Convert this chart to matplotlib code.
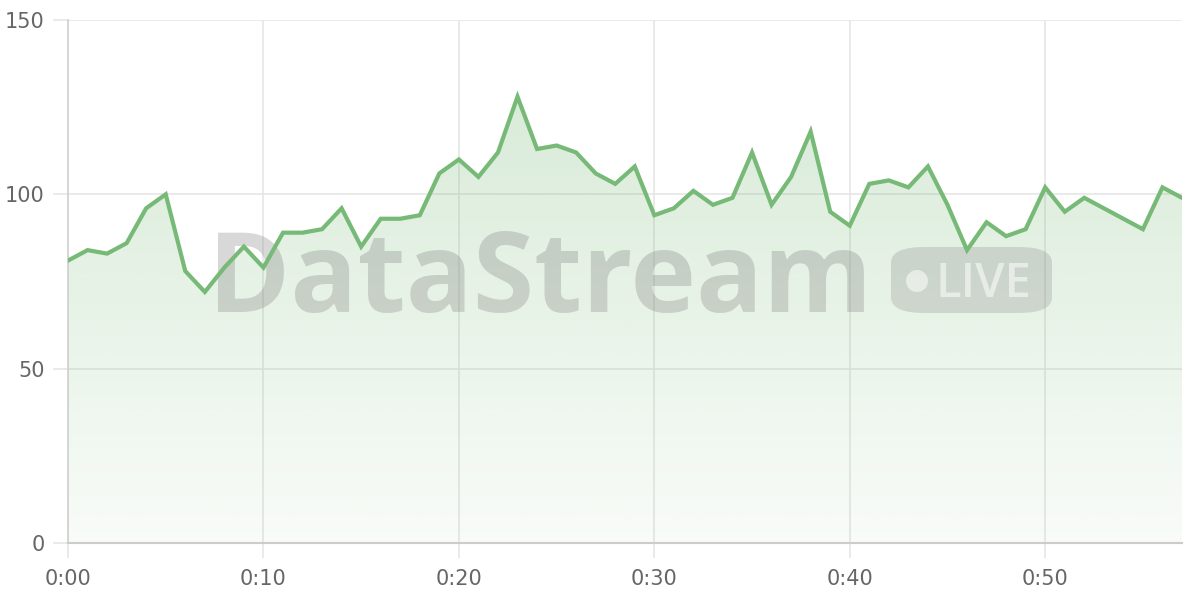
import numpy as np
import matplotlib.pyplot as plt
from matplotlib.patches import FancyBboxPatch, Ellipse

minutes = list(range(58))
values = [81, 84, 83, 86, 96, 100, 78, 72, 79, 85,
          79, 89, 89, 90, 96, 85, 93, 93, 94, 106,
          110, 105, 112, 128, 113, 114, 112, 106, 103, 108,
          94, 96, 101, 97, 99, 112, 97, 105, 118, 95,
          91, 103, 104, 102, 108, 97, 84, 92, 88, 90,
          102, 95, 99, 96, 93, 90, 102, 99]
x_ticks = [0, 10, 20, 30, 40, 50]
x_labels = ['0:00', '0:10', '0:20', '0:30', '0:40', '0:50']
y_ticks = [0, 50, 100, 150]

line_color = '#77b977'
grid_color = '#e6e6e6'
text_color = '#666666'

plt.rcParams['font.family'] = ['DejaVu Sans']

fig = plt.figure(figsize=(12, 6), dpi=100)
ax = fig.add_axes([68 / 1200, 1 - 543 / 600, (1182 - 68) / 1200, (543 - 20) / 600])
ax.set_xlim(0, 57)
ax.set_ylim(0, 150)

# gradient fill under the line
grad = np.linspace(0.05, 0.28, 256).reshape(-1, 1)
rgba = np.zeros((256, 1, 4))
rgba[..., 0] = 0x77 / 255
rgba[..., 1] = 0xb9 / 255
rgba[..., 2] = 0x77 / 255
rgba[..., 3] = grad
top = max(values)
im = ax.imshow(rgba, extent=[0, 57, 0, top], origin='lower', aspect='auto', zorder=1)
poly = ax.fill_between(minutes, values, 0, color='none', lw=0)
im.set_clip_path(poly.get_paths()[0], transform=ax.transData)

ax.plot(minutes, values, color=line_color, lw=3, zorder=4, solid_joinstyle='miter')

# watermark
fx = lambda px: (px - 68) / (1182 - 68)
fy = lambda py: (543 - py) / (543 - 20)
ax.text(fx(208), fy(312), 'DataStream', transform=ax.transAxes, fontsize=80,
        fontweight='bold', family='Open Sans', color='#808080', alpha=0.3,
        ha='left', va='baseline', zorder=3)
badge = FancyBboxPatch((fx(891), fy(313)), fx(1052) - fx(891), fy(247) - fy(313),
                       boxstyle='round,pad=0,rounding_size=0.03', transform=ax.transAxes,
                       facecolor='#808080', edgecolor='none', alpha=0.25, zorder=3)
ax.add_patch(badge)
ax.add_patch(Ellipse((fx(917), fy(281)), 22 / 1114, 22 / 523, transform=ax.transAxes,
                     facecolor='white', alpha=0.55, edgecolor='none', zorder=3.1))
ax.text(fx(936), fy(297), 'LIVE', transform=ax.transAxes, fontsize=34,
        family='Open Sans', fontweight='semibold', color='white', alpha=0.55,
        ha='left', va='baseline', zorder=3.1)

ax.set_xticks(x_ticks)
ax.set_xticklabels(x_labels)
ax.set_yticks(y_ticks)
ax.grid(True, color=grid_color, lw=1.2, zorder=0)
ax.set_axisbelow(True)
ax.tick_params(axis='both', colors=grid_color, labelcolor=text_color, labelsize=15,
               length=11, width=1.2)
ax.tick_params(axis='x', pad=8)
ax.tick_params(axis='y', pad=6)
for s in ['top', 'right']:
    ax.spines[s].set_visible(False)
ax.spines['left'].set_color('#d0d0d0')
ax.spines['bottom'].set_color('#cccccc')
ax.spines['left'].set_linewidth(1.2)
ax.spines['bottom'].set_linewidth(1.5)

fig.savefig('out.png', dpi=100)
